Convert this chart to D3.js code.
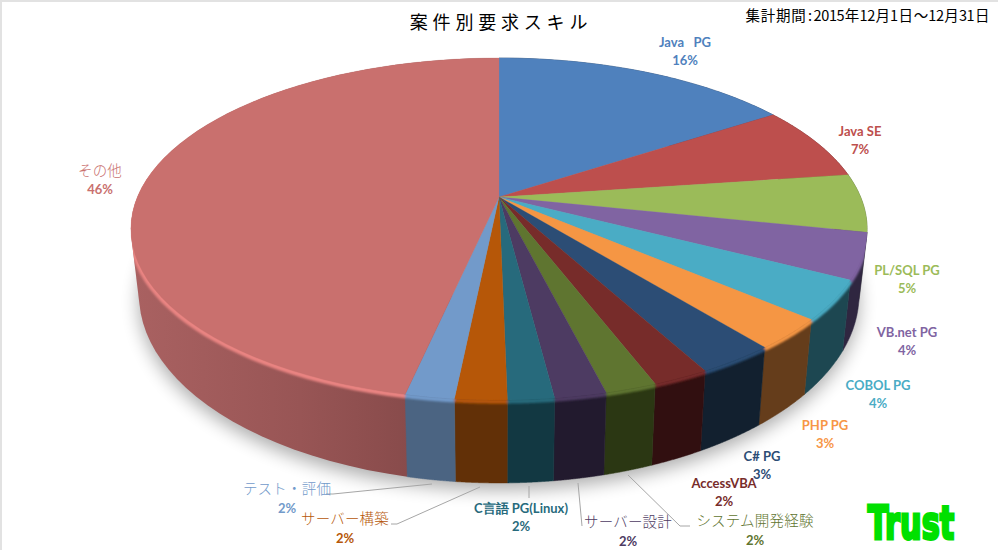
<!DOCTYPE html>
<html><head><meta charset="utf-8">
<script src="https://cdn.jsdelivr.net/npm/d3@7"></script>
<style>
html,body{margin:0;padding:0;background:#fff}
svg{display:block}
text{text-anchor:middle}
.lat{font-family:Lato,"Noto Sans",sans-serif;font-weight:700;font-size:13px}
.cjk{font-family:"Noto Sans CJK JP",sans-serif;font-weight:300;font-size:14.5px;letter-spacing:.2px}
</style></head><body>
<svg id="c" width="998" height="550"></svg>
<script>
const categories=["Java   PG","Java SE","PL/SQL PG","VB.net PG","COBOL PG","PHP PG","C# PG","AccessVBA","システム開発経験","サーバー設計","C言語 PG(Linux)","サーバー構築","テスト・評価","その他"];
const values=[15.75,7.05,5.5,4.3,3.7,2.9,2.9,2.1,1.9,1.9,1.7,1.9,1.8,46.6];
const percentLabels=["16%","7%","5%","4%","4%","3%","3%","2%","2%","2%","2%","2%","2%","46%"];
const topColors=["#4f81bd","#bd4f4d","#9bbb59","#8064a2","#4aacc5","#f59644","#2c4d75","#772c2a","#5f7530","#4d3b62","#276a7c","#b65708","#729aca","#c9706e"];
const wallColors=["#2a4566","#682b2a","#55663a","#2f2640","#1d4751","#653d1b","#12202f","#310f10","#2b3713","#221a2e","#123842","#623007","#4b6482","#a55e5e"];
const labelColors=["#4f81bd","#bd4f4d","#9bbb59","#8064a2","#4aacc5","#f79646","#2c4d75","#772c2a","#5f7530","#4d3b62","#276a7c","#b65708","#729aca","#c9706e"];
const labelCenters=[[685,42],[860,131],[907,270],[907,332],[878,385],[825,425],[762,456],[724,483],[755,521],[628,522],[521,508],[345,519],[287,489],[100,171]];
const leaders={8:[[628,475],[680,526],[690,526]],9:[[578,483],[582,526],[582,526]],10:[[529,486],[529,498]],11:[[480,487],[397,524],[391,524]],12:[[432,484],[333,494],[326,494]]};
const periodText="集計期間:2015年12月1日～12月31日";

const svg=d3.select("#c");
const defs=svg.append("defs");
[["b1",1.1],["b2",9]].forEach(([id,s])=>{
  defs.append("filter").attr("id",id).attr("x","-20%").attr("y","-20%").attr("width","140%").attr("height","140%")
    .append("feGaussianBlur").attr("stdDeviation",s);
});
const grad=defs.append("linearGradient").attr("id","wallOther").attr("gradientUnits","userSpaceOnUse")
  .attr("x1",135).attr("x2",410).attr("y1",0).attr("y2",0);
grad.append("stop").attr("offset",0).attr("stop-color","#a96161");
grad.append("stop").attr("offset",.6).attr("stop-color","#985555");
grad.append("stop").attr("offset",1).attr("stop-color","#884b4b");

svg.append("rect").attr("width",998).attr("height",2).attr("fill","#e2e2e2");
svg.append("rect").attr("width",2).attr("height",550).attr("fill","#e2e2e2");

// 3D projection of the unit disc (perspective)
const cx=499,cy=197,R=361.6,ry=165,k=0.187,shrink=0.978;
const topPt=a=>{const u=Math.sin(a),v=-Math.cos(a),w=1-k*v;return [cx+R*u/w,cy+ry*v/w];};
const botPt=a=>{const p=topPt(a);return [cx+shrink*(p[0]-cx),43+1.1*p[1]];};
const pie=d3.pie().sort(null).value(d=>d)(values);
const line=d3.line();
const steps=(d,n=60)=>d3.range(n+1).map(i=>d.startAngle+(d.endAngle-d.startAngle)*i/n);
const circle=d3.range(0,360,2).map(t=>t*Math.PI/180);
const silhouette=d3.polygonHull(circle.map(topPt).concat(circle.map(botPt)));
defs.append("clipPath").attr("id","sil").append("path").attr("d",line(silhouette)+"Z");

// ground shadow
svg.append("path").attr("d",line(circle.map(botPt))+"Z")
  .attr("transform","translate(0,7)").attr("fill","#000").attr("opacity",.32).attr("filter","url(#b2)");

// walls: the large slice first so its hull sits behind the small ones
const wallOrder=[pie[13]].concat(pie.slice(0,13));
svg.append("g").selectAll("path").data(wallOrder).join("path")
  .attr("d",d=>{const s=steps(d);return line(d3.polygonHull(s.map(topPt).concat(s.map(botPt))))+"Z";})
  .attr("fill",d=>d.index===13?"url(#wallOther)":wallColors[d.index])
  .attr("stroke",d=>d.index===13?"none":wallColors[d.index]).attr("stroke-width",.5);

// rounded rim on the near half only: blurred band in slice colour
const rimFrom=100*Math.PI/180, rimTo=285*Math.PI/180;
const rimSteps=d=>{const a=Math.max(d.startAngle,rimFrom),b=Math.min(d.endAngle,rimTo);
  return a<b?d3.range(41).map(i=>a+(b-a)*i/40):[];};
svg.append("g").attr("clip-path","url(#sil)").append("g").attr("filter","url(#b1)").attr("transform","translate(0,1.5)")
  .selectAll("path").data(pie).join("path")
  .attr("d",d=>{const r=rimSteps(d);return r.length?line(r.map(topPt)):null;})
  .attr("fill","none").attr("stroke-width",(d,i)=>i===13?5:4.5)
  .attr("stroke",(d,i)=>i===13?"#ea8482":topColors[i]);

// top face
svg.append("g").selectAll("path").data(pie).join("path")
  .attr("d",d=>line([[cx,cy]].concat(steps(d).map(topPt)))+"Z")
  .attr("fill",(d,i)=>topColors[i]).attr("stroke",(d,i)=>topColors[i]).attr("stroke-width",.3);

// leaders
svg.append("g").selectAll("path").data(Object.values(leaders)).join("path")
  .attr("d",d=>line(d)).attr("fill","none").attr("stroke","#a6a6a6").attr("stroke-width",1);

// labels
const lab=svg.append("g").selectAll("g").data(categories).join("g")
  .attr("transform",(d,i)=>`translate(${labelCenters[i]})`).attr("fill",(d,i)=>labelColors[i]);
lab.append("text").attr("class",d=>/^[\x00-\x7f]+$/.test(d)||d.startsWith("C言語")?"lat":"cjk")
  .attr("y",5).style("white-space","pre").text(d=>d);
lab.append("text").attr("class","lat").attr("y",(d,i)=>(i>=8&&i<=12&&i!==10?19+5:18+5)).text((d,i)=>percentLabels[i]);

// title + period
svg.append("text").attr("x",501).attr("y",29).attr("fill","#000")
  .style("font-family",'"Noto Sans CJK JP",sans-serif').style("font-size","18px").style("letter-spacing","4.8px")
  .text("案件別要求スキル");
// period text: full-width / half-width grid
let px=745; const xs=[];
for(const ch of periodText){ const half=/[\x00-\x7f]/.test(ch); xs.push(px+(half?3.8:7.65)); px+=half?7.65:15.3; }
svg.append("text").attr("x",xs.join(" ")).attr("y",21).attr("fill","#000")
  .style("font-family",'"Noto Sans CJK JP",sans-serif').style("font-size","14.5px").style("font-weight",400)
  .text(periodText);

// logo
svg.append("text").attr("transform","translate(911,539) scale(.66,1)").attr("fill","#00e000").attr("stroke","#00e000").attr("stroke-width",3)
  .style("font-family",'"DejaVu Sans",sans-serif').style("font-weight",700).style("font-size","46px")
  .text("Trust");
</script></body></html>
